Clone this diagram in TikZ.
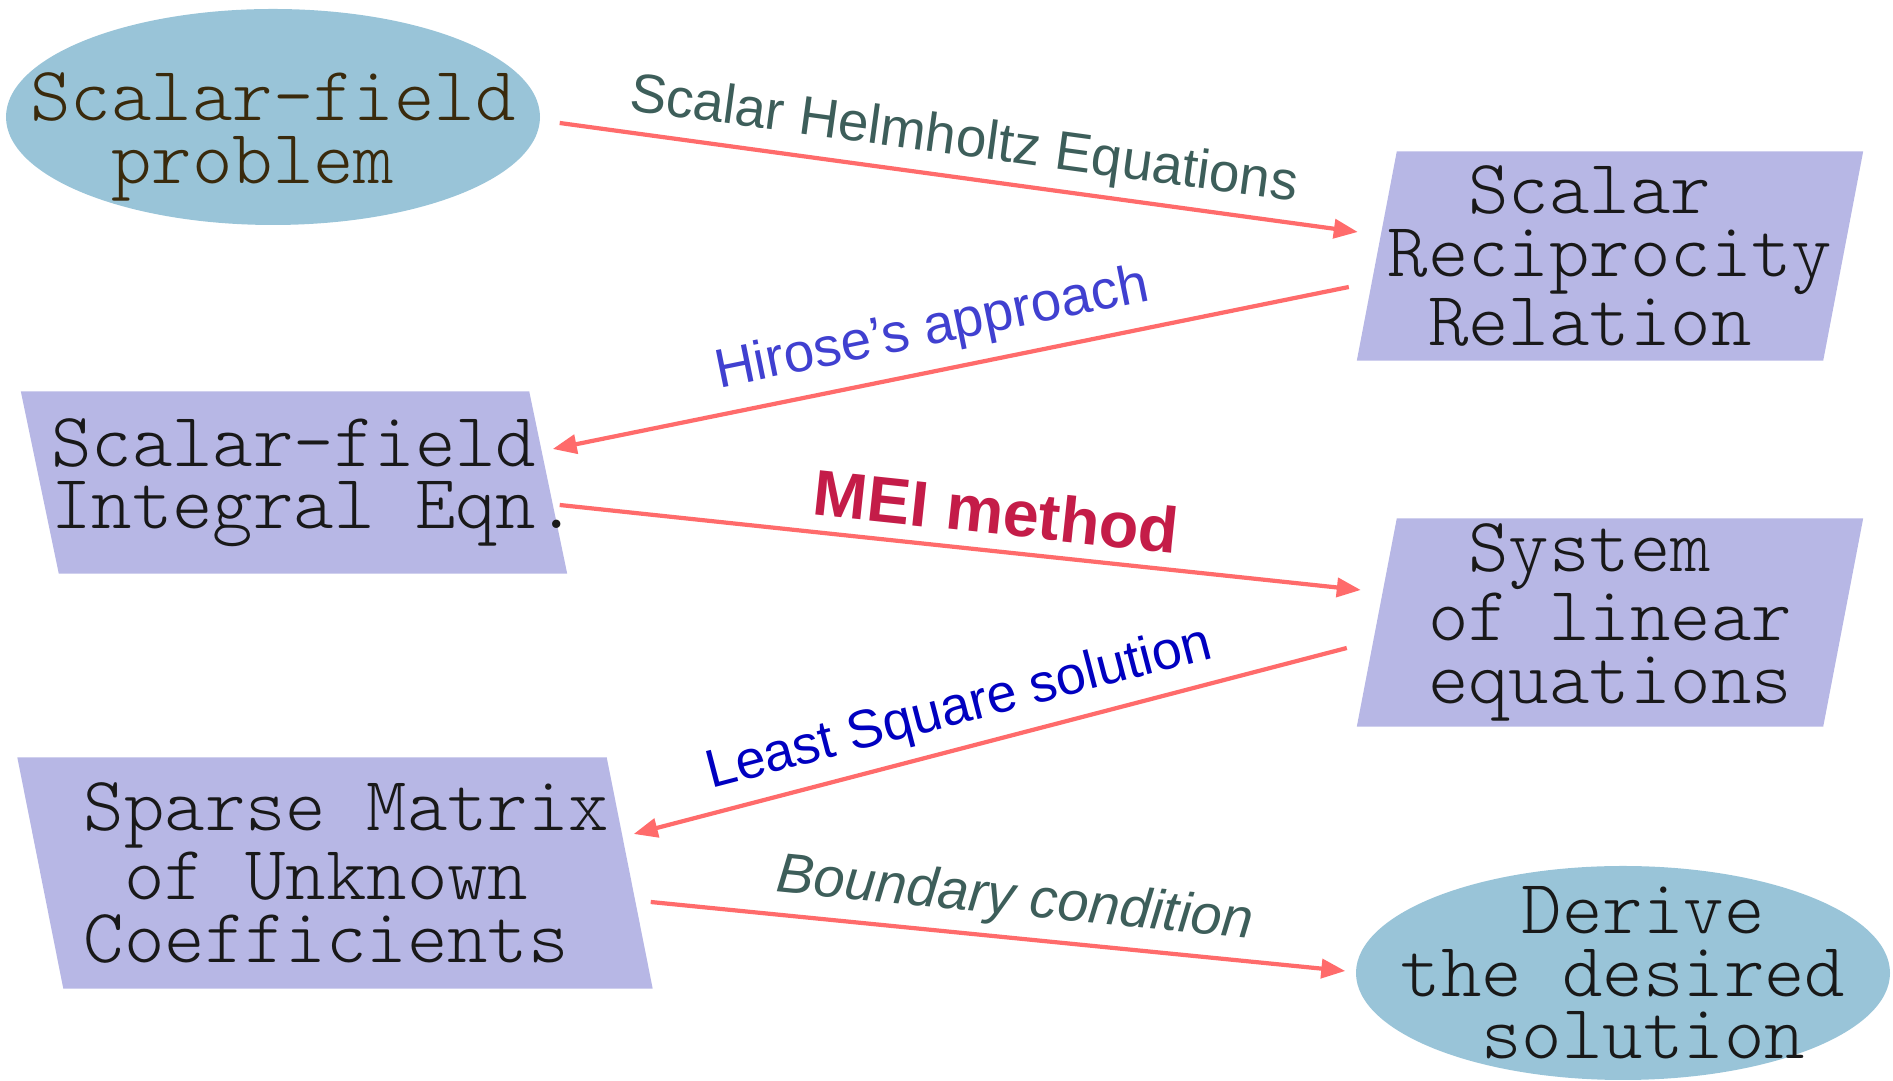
\documentclass[tikz,border=0pt]{standalone}
\usepackage{fontspec}
\setmainfont{Liberation Sans}
\setmonofont{lmmonolt10-regular.otf}
\usetikzlibrary{shapes.geometric,arrows.meta,backgrounds}

\definecolor{ovalblue}{HTML}{99C4D8}
\definecolor{boxlav}{HTML}{B7B7E5}
\definecolor{arrred}{HTML}{FF6B6B}
\definecolor{slate}{HTML}{3D5E5A}
\definecolor{hirblue}{HTML}{4040D0}
\definecolor{meired}{HTML}{C41C48}
\definecolor{lsqblue}{HTML}{0000C0}
\definecolor{darkbrown}{HTML}{3A2A0C}

% paralelogramo detras de un nodo: #1 nodo, #2 desplazamiento del lado superior
\newcommand{\slantfill}[2]{%
  \fill[boxlav] ([xshift={0cm-(#2)}]#1.south west) -- ([xshift={0cm-(#2)}]#1.south east)
    -- ([xshift=#2]#1.north east) -- ([xshift=#2]#1.north west) -- cycle;}

\begin{document}
\begin{tikzpicture}[>={Triangle[length=0.24cm,width=0.19cm]},
    every node/.style={font=\ttfamily\fontsize{21.9}{17.8}\selectfont},
    % Estilos
    oval/.style={
        ellipse, fill=ovalblue, inner sep=-0.6cm,
        minimum width=5.34cm, minimum height=2.16cm, align=center
    },
    boxtxt/.style={
        rectangle, inner sep=0pt, text=black!90
    },
    conn/.style={
        ->, line width=1.2pt, arrred
    },
    lbl/.style={
        font=\fontsize{15.6}{18}\selectfont, sloped, inner sep=0pt
    }
]
\useasboundingbox (0,0) rectangle (18.93,-10.81);

% =============================================
% BLOQUES
% =============================================
\node[oval, text=darkbrown, text height=1.5cm] (prob) at (2.73,-1.17) {Scalar-field\\problem\hspace*{.525em}};

\node[boxtxt, minimum width=4.65cm, minimum height=2.08cm, align=center]
    (recip) at (16.10,-2.56) {Scalar\hspace*{.525em}\\Reciprocity\\Relation\hspace*{.525em}};

\node[boxtxt, minimum width=5.07cm, minimum height=1.81cm, align=left]
    (inteq) at (2.94,-4.825) {Scalar-field\\Integral Eqn.\hspace*{-.4cm}};

\node[boxtxt, minimum width=4.65cm, minimum height=2.07cm, align=center]
    (linsys) at (16.10,-6.225) {System\hspace*{.525em}\\of linear\\equations};

\node[boxtxt, minimum width=5.88cm, minimum height=2.30cm, align=left]
    (sparse) at (3.35,-8.73) {Sparse Matrix\hspace*{-.23cm}\\\hspace*{.525em}of Unknown\\Coefficients};

\node[oval, text=black!90, minimum height=2.14cm] (sol) at (16.23,-9.73)
    {\hspace*{.525em}Derive\\the desired\\\hspace*{.525em}solution};

% fondos inclinados
\begin{scope}[on background layer]
\slantfill{recip}{0.20cm}
\slantfill{inteq}{-0.19cm}
\slantfill{linsys}{0.20cm}
\slantfill{sparse}{-0.23cm}
\end{scope}

% =============================================
% FLECHAS
% =============================================
\draw[conn] ([shift={(0.19,-0.06)}]prob.east) -- ([shift={(-0.19,0.24)}]recip.west)
    node[lbl, midway, above=0.085cm, text=slate] {Scalar Helmholtz Equations};

\draw[conn] ([shift={(-0.28,-0.31)}]recip.west) -- ([shift={(0.045,0.335)}]inteq.east)
    node[lbl, pos=0.513, above=0.13cm, text=hirblue] {Hirose’s approach};

\draw[conn] ([shift={(0.115,-0.225)}]inteq.east) -- ([shift={(-0.16,0.325)}]linsys.west)
    node[lbl, pos=0.54, above=0.14cm, text=meired, font=\bfseries\fontsize{18.4}{20}\selectfont] {MEI method};

\draw[conn] ([shift={(-0.30,-0.255)}]linsys.west) -- ([shift={(0.04,0.39)}]sparse.east)
    node[lbl, pos=0.53, above=0.11cm, text=lsqblue, font=\fontsize{15.3}{18}\selectfont] {Least Square solution};

\draw[conn] ([shift={(0.21,-0.29)}]sparse.east) -- ([shift={(-0.10,0.02)}]sol.west)
    node[lbl, pos=0.519, above=0.09cm, text=slate, font=\itshape\fontsize{15.9}{18}\selectfont] {Boundary condition};

\end{tikzpicture}
\end{document}
